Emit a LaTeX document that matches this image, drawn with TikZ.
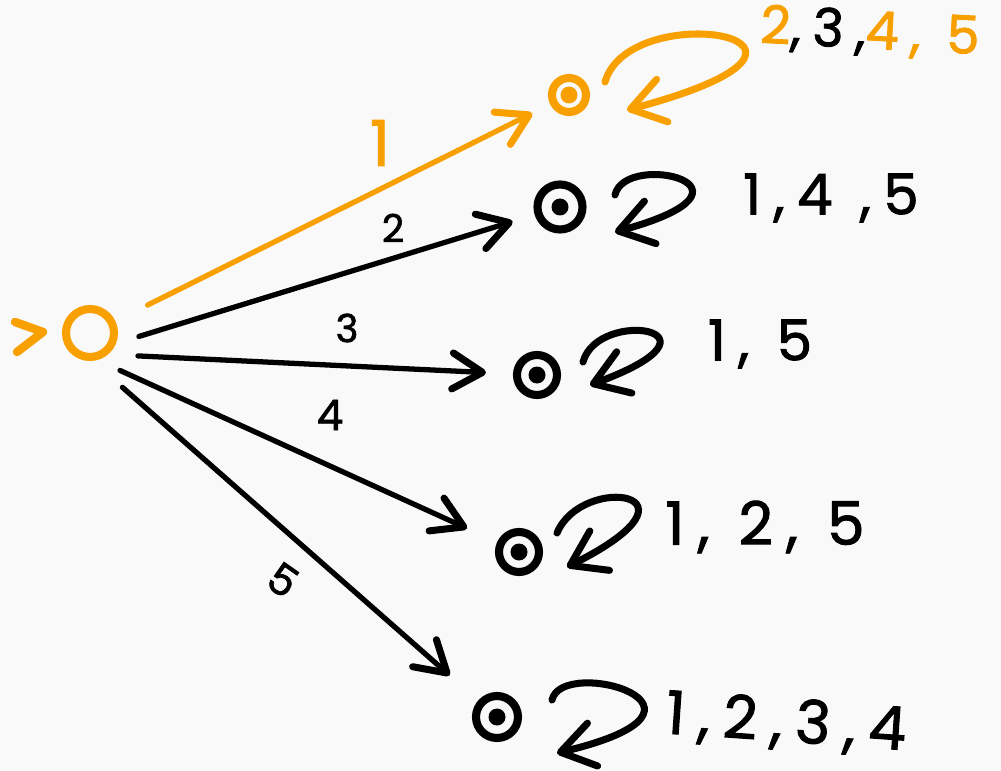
\documentclass[tikz,border=0pt]{standalone}
\usepackage{fontspec}
\setmainfont{Poppins}
\newfontfamily\handfont[LetterSpace=22, FakeBold=1.6]{Poppins}
\usetikzlibrary{calc, arrows.meta}

\begin{document}
\begin{tikzpicture}[
    state/.style={circle, draw=accColour, line width=2.3pt, inner sep=0pt, minimum size=0.48cm},
    accept/.style={circle, draw=#1, line width=2.3pt, inner sep=0pt,
        path picture={\fill[#1] (path picture bounding box.center) circle (0.085);}},
    accept/.default=inkColour,
    trans/.style={draw=#1, line width=1.5pt, line cap=round,
        -{Straight Barb[round, length=3mm, width=3.6mm, line width=2pt]}},
    trans/.default=inkColour,
    selfloop/.style={draw=#1, line width=2pt, line cap=round,
        -{Straight Barb[round, length=3.3mm, width=4.4mm, line width=2pt]}},
    selfloop/.default=inkColour,
    edgelabel/.style={inner sep=0pt, font=\handfont\fontsize{11}{12}\selectfont},
    looplabel/.style={inner sep=0pt, font=\handfont\fontsize{16}{18}\selectfont}
]
    % Colours of the sketch
    \definecolor{accColour}{HTML}{F7A000}
    \definecolor{inkColour}{HTML}{000000}
    \definecolor{bgColour}{HTML}{F9F9F9}

    % Paper
    \fill[bgColour] (0,0) rectangle (10.01,7.70);
    \useasboundingbox (0,0) rectangle (10.01,7.70);

    % States
    \node[state] (q0) at (0.90,4.37) {};
    \node[accept=accColour, minimum size=0.34cm] (q1) at (5.69,6.75) {};
    \node[accept, minimum size=0.45cm] (q2) at (5.60,5.63) {};
    \node[accept, minimum size=0.40cm] (q3) at (5.37,3.95) {};
    \node[accept, minimum size=0.40cm] (q4) at (5.19,2.18) {};
    \node[accept, minimum size=0.42cm] (q5) at (4.97,0.53) {};

    % Start marker
    \draw[accColour, line width=2.4pt, line cap=round, line join=round]
        ($(q0)+(-0.75,0.11)$) -- ($(q0)+(-0.47,0.01)$) -- ($(q0)+(-0.73,-0.19)$);

    % Transitions out of the start state
    \draw[trans=accColour, shorten <=0.36cm, shorten >=0.20cm] (q0.25) -- (q1);
    \draw[trans, shorten <=0.24cm, shorten >=0.23cm] (q0.-22) -- (q2);
    \draw[trans, shorten <=0.30cm, shorten >=0.27cm] (q0.-50) -- (q3);
    \draw[trans, shorten <=0.25cm, shorten >=0.33cm] (q0.-75) -- (q4);
    \draw[trans, shorten <=0.40cm, shorten >=0.38cm] (q0.-85) -- (q5);

    % Transition labels
    \node[edgelabel, text=accColour, font=\handfont\fontsize{18}{20}\selectfont] (t1) at (3.80,6.27) {1};
    \node[edgelabel] (t2) at (3.93,5.42) {2};
    \node[edgelabel] (t3) at (3.47,4.42) {3};
    \node[edgelabel, font=\handfont\fontsize{12}{14}\selectfont] (t4) at (3.30,3.55) {4};
    \node[edgelabel, font=\handfont\fontsize{12}{14}\selectfont, rotate=-35] (t5) at (2.83,1.90) {5};

    % Self loops beside each accepting state
    \coordinate (l1s) at ($(q1)+(0.36,0.13)$);
    \coordinate (l1e) at ($(q1)+(0.58,-0.15)$);
    \draw[selfloop=accColour] (l1s) .. controls +(0.25,0.87) and +(2.63,0.7) .. (l1e);

    \coordinate (l2s) at ($(q2)+(0.55,0.12)$);
    \coordinate (l2e) at ($(q2)+(0.55,-0.25)$);
    \draw[selfloop] (l2s) .. controls +(0.1,0.45) and +(1.65,0.45) .. (l2e);

    \coordinate (l3s) at ($(q3)+(0.46,0.13)$);
    \coordinate (l3e) at ($(q3)+(0.53,-0.10)$);
    \draw[selfloop] (l3s) .. controls +(0.15,0.55) and +(1.5,0.55) .. (l3e);

    \coordinate (l4s) at ($(q4)+(0.38,0.19)$);
    \coordinate (l4e) at ($(q4)+(0.48,-0.15)$);
    \draw[selfloop] (l4s) .. controls +(0.25,0.6) and +(1.5,0.75) .. (l4e);

    \coordinate (l5s) at ($(q5)+(0.55,0.17)$);
    \coordinate (l5e) at ($(q5)+(0.60,-0.36)$);
    \draw[selfloop] (l5s) .. controls +(0.1,0.45) and +(1.9,0.45) .. (l5e);

    % Loop labels
    \node[looplabel, font=\handfont\fontsize{15}{17}\selectfont, rotate=-3] (s1) at (8.70,7.37)
        {\textcolor{accColour}{2},3,\textcolor{accColour}{4, 5}};
    \node[looplabel] (s2) at (8.31,5.72) {1,4 ,5};
    \node[looplabel] (s3) at (7.60,4.26) {1, 5};
    \node[looplabel, font=\handfont\fontsize{17}{19}\selectfont] (s4) at (7.65,2.43) {1, 2, 5};
    \node[looplabel, font=\handfont\fontsize{17}{19}\selectfont, rotate=-4] (s5) at (7.86,0.46) {1,2,3,4};

\end{tikzpicture}
\end{document}
